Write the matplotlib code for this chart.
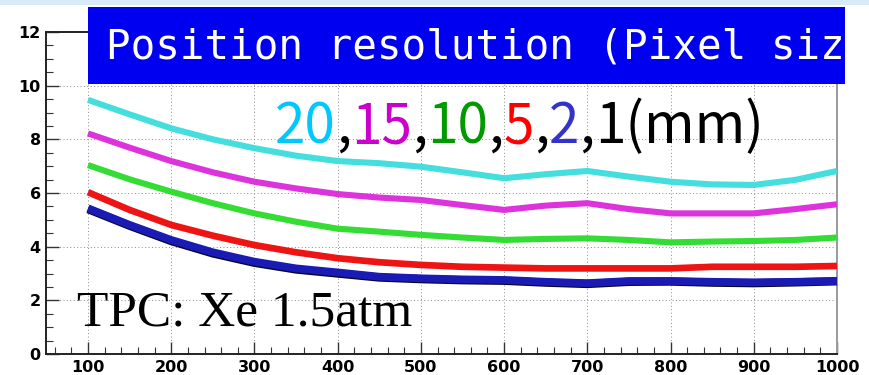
import matplotlib
matplotlib.use("Agg")
import matplotlib.pyplot as plt
from matplotlib import font_manager
from matplotlib.patches import Rectangle
from matplotlib.ticker import MultipleLocator

# Drift length (mm) and position resolution for each pixel size
drift_mm = [100, 150, 200, 250, 300, 350, 400, 450, 500, 550,
            600, 650, 700, 750, 800, 850, 900, 950, 1000]
res_20mm = [9.47, 8.93, 8.41, 8.00, 7.67, 7.39, 7.19, 7.11, 6.98, 6.77,
            6.55, 6.70, 6.82, 6.61, 6.42, 6.32, 6.30, 6.49, 6.82]
res_15mm = [8.22, 7.69, 7.19, 6.77, 6.42, 6.17, 5.96, 5.83, 5.74, 5.55,
            5.37, 5.53, 5.62, 5.40, 5.24, 5.24, 5.24, 5.40, 5.58]
res_10mm = [7.04, 6.51, 6.05, 5.62, 5.24, 4.93, 4.67, 4.56, 4.44, 4.34,
            4.25, 4.29, 4.31, 4.25, 4.16, 4.19, 4.21, 4.25, 4.34]
res_5mm = [6.03, 5.37, 4.81, 4.41, 4.06, 3.79, 3.57, 3.42, 3.32, 3.25,
           3.22, 3.19, 3.19, 3.19, 3.19, 3.25, 3.25, 3.25, 3.28]
res_2mm = [5.43, 4.81, 4.25, 3.79, 3.44, 3.19, 3.04, 2.88, 2.82, 2.78,
           2.76, 2.69, 2.64, 2.72, 2.72, 2.69, 2.67, 2.69, 2.72]
res_1mm = [5.40, 4.78, 4.21, 3.75, 3.40, 3.15, 3.00, 2.85, 2.79, 2.75,
           2.73, 2.66, 2.61, 2.69, 2.70, 2.66, 2.64, 2.67, 2.71]

x_ticks = [100, 200, 300, 400, 500, 600, 700, 800, 900, 1000]
y_ticks = [0, 2, 4, 6, 8, 10, 12]

title_text = "Position resolution (Pixel size)"
size_pieces = [("20", "#00c8ff"), (",", "black"), ("15", "#cc00cc"),
               (",", "black"), ("10", "#009a00"), (",", "black"),
               ("5", "#ff0000"), (",", "black"), ("2", "#3333cc"),
               (",", "black"), ("1(mm)", "black")]
detector_text = "TPC: Xe 1.5atm"

W, H = 869, 375
fig = plt.figure(figsize=(W / 100, H / 100), dpi=100)
fig.patch.set_facecolor("white")

available = {f.name for f in font_manager.fontManager.ttflist}


def fx(px):
    return px / W


def fy(py):
    return 1 - py / H


# thin slide strip across the top
fig.patches.append(Rectangle((0, fy(5)), 1, 5 / H, transform=fig.transFigure,
                             facecolor="#d6ebf7", edgecolor="none", zorder=0))

ax = fig.add_axes([fx(46.4), fy(354), fx(837 - 46.4), (354 - 32) / H])
ax.set_xlim(50, 1000)
ax.set_ylim(0, 12)

series = [
    (res_1mm, "#05052a", 6.0),
    (res_2mm, "#1a1ab4", 5.6),
    (res_5mm, "#ee1414", 4.8),
    (res_10mm, "#33dd33", 4.4),
    (res_15mm, "#dd33dd", 4.4),
    (res_20mm, "#44dede", 4.4),
]
for vals, col, lw in series:
    ax.plot(drift_mm, vals, color=col, lw=lw, solid_capstyle="butt",
            solid_joinstyle="round", zorder=3)

ax.set_xticks(x_ticks)
ax.set_yticks(y_ticks)
ax.xaxis.set_minor_locator(MultipleLocator(20))
ax.yaxis.set_minor_locator(MultipleLocator(0.5))
ax.tick_params(which="major", direction="in", length=9, width=1.0,
               color="#333333", labelsize=11.5, pad=4)
ax.tick_params(which="minor", direction="in", length=5, width=0.8,
               color="#333333")
for lab in ax.get_xticklabels() + ax.get_yticklabels():
    lab.set_fontweight("bold")
    lab.set_family("DejaVu Sans")
ax.grid(True, which="major", color="#8a8a8a", lw=0.7, ls=(0, (1, 2.5)),
        zorder=1)
for side in ("left", "bottom", "top"):
    ax.spines[side].set_color("#222222")
    ax.spines[side].set_linewidth(1.4)
ax.spines["right"].set_color("#9a9a9a")
ax.spines["right"].set_linewidth(1.4)

# blue title banner, text clipped at its right edge
banner = Rectangle((fx(88), fy(84)), fx(845 - 88), 77 / H,
                   transform=fig.transFigure, facecolor="#0000f0",
                   edgecolor="none", zorder=5)
fig.patches.append(banner)
mono = "DejaVu Sans Mono"
tt = fig.text(fx(106), fy(47), title_text, color="white", fontsize=29.4,
              family=mono, va="center", ha="left", zorder=6)
tt.set_clip_path(banner)

# coloured list of pixel sizes
if "Liberation Sans Narrow" in available:
    size_font, size_pt = "Liberation Sans Narrow", 47
else:
    size_font, size_pt = "Noto Sans CJK JP", 39.5
renderer = fig.canvas.get_renderer()
x0_px, base_py = 275, 143
full = ""
for piece, col in size_pieces:
    if full:
        probe = fig.text(0, 0, full, fontsize=size_pt, family=size_font)
        off = probe.get_window_extent(renderer=renderer).width
        probe.remove()
    else:
        off = 0
    fig.text(fx(x0_px + off), fy(base_py), piece, color=col,
             fontsize=size_pt, family=size_font, va="baseline", ha="left",
             zorder=6)
    full += piece

fig.text(fx(77), fy(325), detector_text, fontsize=37,
         family=["Liberation Serif", "DejaVu Serif"], va="baseline",
         ha="left", color="black", zorder=6)

fig.savefig("out.png", dpi=100)
